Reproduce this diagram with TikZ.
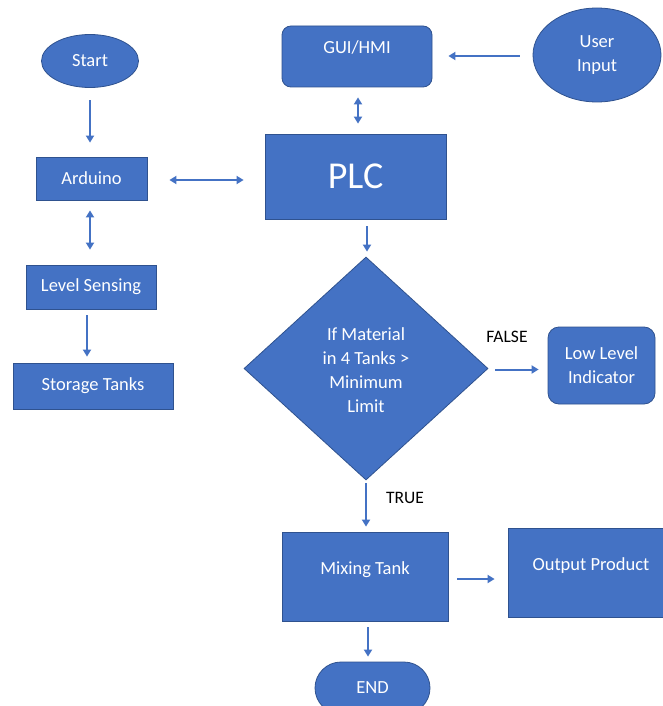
\documentclass[tikz,border=0pt]{standalone}
\usepackage{fontspec}
\setmainfont{Carlito}
\usetikzlibrary{shapes.geometric,arrows.meta}
\definecolor{boxblue}{HTML}{4472C4}
\definecolor{edgeblue}{HTML}{2F528F}
\tikzset{
  blk/.style={draw=edgeblue, line width=0.8pt, fill=boxblue, text=white, inner sep=0pt,
    font=\fontsize{18.5}{24}\selectfont, align=center},
  rbox/.style={blk, rectangle},
  rrbox/.style={blk, rectangle, rounded corners=9pt},
  oval/.style={blk, ellipse},
  txt/.style={text=white, font=\fontsize{18.5}{24}\selectfont, align=center, inner sep=0pt},
  lbl/.style={text=black, font=\fontsize{17.5}{20}\selectfont, inner sep=0pt},
  arr/.style={draw=boxblue, line width=2pt, -{Triangle[length=7pt,width=8pt]}},
  darr/.style={draw=boxblue, line width=2pt, {Triangle[length=7pt,width=8pt]}-{Triangle[length=7pt,width=8pt]}},
}
\begin{document}
\begin{tikzpicture}[x=1pt,y=-1pt]
\useasboundingbox (0,0) rectangle (663,706);
\clip (0,0) rectangle (663,706);
\fill[white] (0,0) rectangle (663,706);

% nodes
\node[oval, minimum width=97pt, minimum height=53pt] (start) at (90,61) {Start};
\node[rbox, minimum width=111pt, minimum height=43pt] (arduino) at (91.5,178.5) {Arduino};
\node[rbox, minimum width=130pt, minimum height=44pt] (level) at (91,287) {Level Sensing};
\node[rbox, minimum width=160pt, minimum height=46pt] (storage) at (93,386) {Storage Tanks};

\node[rrbox, minimum width=150pt, minimum height=61pt] (gui) at (357,56.5) {};
\node[txt] (guit) at (357,47) {GUI/HMI};
\node[oval, minimum width=128pt, minimum height=94pt] (user) at (597,55) {User\\Input};

\node[rbox, minimum width=181pt, minimum height=85pt, font=\fontsize{38}{40}\selectfont] (plc) at (355.5,176.5) {PLC};

\node[blk, diamond, minimum width=244pt, minimum height=223pt] (dec) at (366,368.5) {};
\node[txt] (dect) at (366,370) {If Material\\in 4 Tanks \textgreater\\Minimum\\Limit};

\node[rrbox, minimum width=107pt, minimum height=77pt, rounded corners=11pt] (low) at (601.5,365.5) {Low Level\\Indicator};

\node[rbox, minimum width=166pt, minimum height=89pt] (mix) at (365,576.5) {};
\node[txt] (mixt) at (365,570) {Mixing Tank};
\node[rbox, minimum width=166pt, minimum height=89pt] (out) at (591,572.5) {};
\node[txt] (outt) at (591,566) {Output Product};

\node[rbox, rounded corners=26pt, minimum width=115pt, minimum height=52pt] (endn) at (372.5,688) {END};

% labels
\node[lbl] (false) at (507,337) {FALSE};
\node[lbl] (true) at (405,498) {TRUE};

% connectors
\draw[arr, shorten <=12.5pt, shorten >=14pt] (start.south) -- (start.south |- arduino.north);
\draw[darr, shorten <=22pt, shorten >=21pt] ([yshift=-1.5pt]arduino.east) -- ([yshift=-1.5pt]arduino.east -| plc.west);
\draw[darr, shorten <=10pt, shorten >=15pt] ([xshift=-1.5pt]arduino.south) -- ([xshift=-1.5pt]arduino.south |- level.north);
\draw[arr, shorten <=6pt, shorten >=6pt] ([xshift=-4pt]level.south) -- ([xshift=-4pt]level.south |- storage.north);
\draw[arr, shorten <=13pt, shorten >=16pt] ([yshift=-1pt]user.west) -- ([yshift=-1pt]user.west -| gui.east);
\draw[darr, shorten <=10pt, shorten >=10pt] ([xshift=1pt]gui.south) -- ([xshift=1pt]gui.south |- plc.north);
\draw[arr, shorten <=7pt, shorten >=5pt] ([xshift=11.5pt]plc.south) -- ([xshift=11.5pt]plc.south |- dec.north);
\draw[arr, shorten <=7pt, shorten >=9pt] ([yshift=-1pt]dec.east) -- ([yshift=-1pt]dec.east -| low.west);
\draw[arr, shorten <=3pt, shorten >=5pt] (dec.south) -- (dec.south |- mix.north);
\draw[arr, shorten <=9pt, shorten >=13pt] ([yshift=-2.5pt]mix.east) -- ([yshift=-2.5pt]mix.east -| out.west);
\draw[arr, shorten <=6pt, shorten >=5pt] ([xshift=3pt]mix.south) -- ([xshift=3pt]mix.south |- endn.north);
\end{tikzpicture}
\end{document}
